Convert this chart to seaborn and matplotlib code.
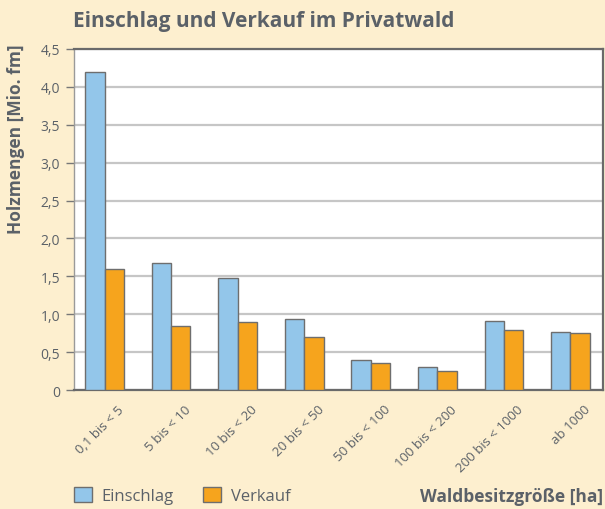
import pandas as pd
import matplotlib.pyplot as plt
import matplotlib.transforms as mtransforms
import seaborn as sns

kategorien = ['0,1 bis < 5', '5 bis < 10', '10 bis < 20', '20 bis < 50',
              '50 bis < 100', '100 bis < 200', '200 bis < 1000', 'ab 1000']
einschlag = [4.20, 1.67, 1.48, 0.94, 0.40, 0.30, 0.91, 0.77]
verkauf = [1.60, 0.85, 0.90, 0.70, 0.36, 0.25, 0.79, 0.75]
y_ticks = [0, 0.5, 1.0, 1.5, 2.0, 2.5, 3.0, 3.5, 4.0, 4.5]
y_labels = ['0', '0,5', '1,0', '1,5', '2,0', '2,5', '3,0', '3,5', '4,0', '4,5']

df = pd.DataFrame({
    'Größe': kategorien * 2,
    'Wert': einschlag + verkauf,
    'Art': ['Einschlag'] * len(kategorien) + ['Verkauf'] * len(kategorien),
})

sns.set_style('white')
plt.rcParams['font.family'] = ['Open Sans', 'DejaVu Sans']

bg = '#FDEFCF'
grau = '#5b6168'

fig = plt.figure(figsize=(6.05, 5.1), dpi=100, facecolor=bg)
ax = fig.add_axes([0.1223, 0.2333, 0.8744, 0.6687])
ax.set_facecolor('white')

sns.barplot(data=df, x='Größe', y='Wert', hue='Art', order=kategorien,
            palette={'Einschlag': '#93C6EA', 'Verkauf': '#F6A41D'},
            saturation=1, width=0.58, edgecolor='#6e6e6e', linewidth=1.0,
            ax=ax, legend=True, zorder=3)

ax.set_xlim(-0.46, 7.49)
ax.set_ylim(0, 4.5)
ax.set_yticks(y_ticks)
ax.set_yticklabels(y_labels, fontsize=10, color=grau)
ax.tick_params(axis='y', length=6, width=1, color='#777777', pad=4, left=True)
ax.tick_params(axis='x', length=0, pad=9)
ax.set_xticks(range(len(kategorien)))
ax.set_xticklabels(kategorien, rotation=45, ha='right', rotation_mode='anchor',
                   fontsize=9.5, color=grau)
# Beschriftungen etwas nach rechts schieben wie im Original
verschiebung = mtransforms.ScaledTranslation(13 / 100, 0, fig.dpi_scale_trans)
for lbl in ax.get_xticklabels():
    lbl.set_transform(lbl.get_transform() + verschiebung)

ax.yaxis.grid(True, color='#c6c6c6', linewidth=1.6, zorder=0)
ax.set_axisbelow(True)

for side in ['top', 'right', 'bottom']:
    ax.spines[side].set_color('#6a6a6a')
    ax.spines[side].set_linewidth(1.6)
ax.spines['left'].set_color('#9a9a9a')
ax.spines['left'].set_linewidth(1.0)

ax.set_xlabel('')
ax.set_ylabel('Holzmengen [Mio. fm]', fontsize=12.5, fontweight='bold',
              color=grau)
ax.yaxis.set_label_coords(-0.093, 0.739)

fig.text(0.1206, 0.957, 'Einschlag und Verkauf im Privatwald', fontsize=15,
         fontweight='bold', color=grau, va='center', ha='left')
fig.text(0.997, 0.026, 'Waldbesitzgröße [ha]', fontsize=12.5, fontweight='bold',
         color=grau, va='center', ha='right')

handles, labels = ax.get_legend_handles_labels()
ax.legend(handles, labels, loc='center left', bbox_to_anchor=(0.097, 0.026),
          bbox_transform=fig.transFigure, ncol=2, frameon=False,
          fontsize=12, labelcolor=grau, handlelength=1.08, handleheight=1.0,
          columnspacing=1.75, handletextpad=0.6)

fig.savefig('out.png', dpi=100, facecolor=bg)
